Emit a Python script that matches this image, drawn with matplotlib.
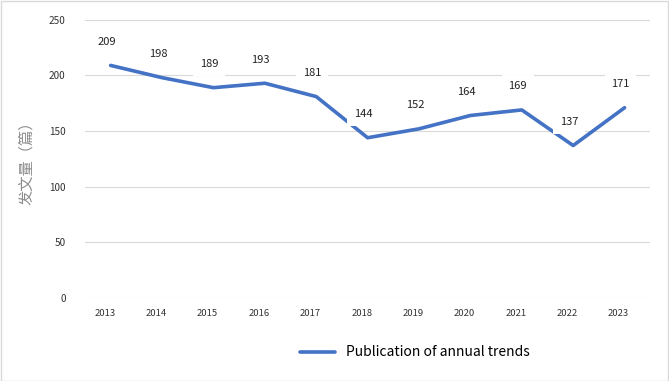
import matplotlib.pyplot as plt
from matplotlib.patches import Rectangle
from matplotlib.transforms import ScaledTranslation

plt.rcParams['font.family'] = ['Noto Sans CJK SC', 'DejaVu Sans']

years = ['2013', '2014', '2015', '2016', '2017', '2018', '2019', '2020', '2021', '2022', '2023']
counts = [209, 198, 189, 193, 181, 144, 152, 164, 169, 137, 171]

fig = plt.figure(figsize=(6.69, 3.81), dpi=100)
ax = fig.add_axes([0.127, 0.218, 0.845, 0.73])

x = list(range(len(years)))
ax.plot(x, counts, color='#4472C4', linewidth=2.6, label='Publication of annual trends',
        solid_capstyle='round', zorder=2)

for xi, v in zip(x, counts):
    ax.annotate(str(v), (xi, v), xytext=(-3, 17), textcoords='offset points',
                ha='center', va='center', fontsize=8, color='#222222',
                bbox=dict(boxstyle='square,pad=0.6', fc='white', ec='none'), zorder=3)

ax.set_xlim(-0.5, len(years) - 0.5)
ax.set_ylim(0, 250)
ax.set_yticks([0, 50, 100, 150, 200, 250])
ax.set_xticks(x)
ax.set_xticklabels(years)
ax.tick_params(axis='x', length=0, labelsize=6.8, colors='#333333', pad=8)
ax.tick_params(axis='y', length=0, labelsize=7.2, colors='#333333', pad=14)
shift = ScaledTranslation(-6 / 100, 0, fig.dpi_scale_trans)
for lbl in ax.get_xticklabels():
    lbl.set_transform(lbl.get_transform() + shift)
ax.grid(axis='y', color='#d9d9d9', linewidth=0.8)
ax.set_axisbelow(True)
for s in ax.spines.values():
    s.set_visible(False)

ax.set_ylabel('发文量（篇）', fontsize=11, color='#8c8c8c', labelpad=10)

leg = fig.legend(loc='center', bbox_to_anchor=(0.62, 0.075), frameon=False,
                 fontsize=10, handlelength=2.5)

fig.patches.append(Rectangle((0.001, 0.001), 0.997, 0.997, transform=fig.transFigure,
                             fill=False, edgecolor='#d9d9d9', linewidth=1))

fig.savefig('out.png', dpi=100)
